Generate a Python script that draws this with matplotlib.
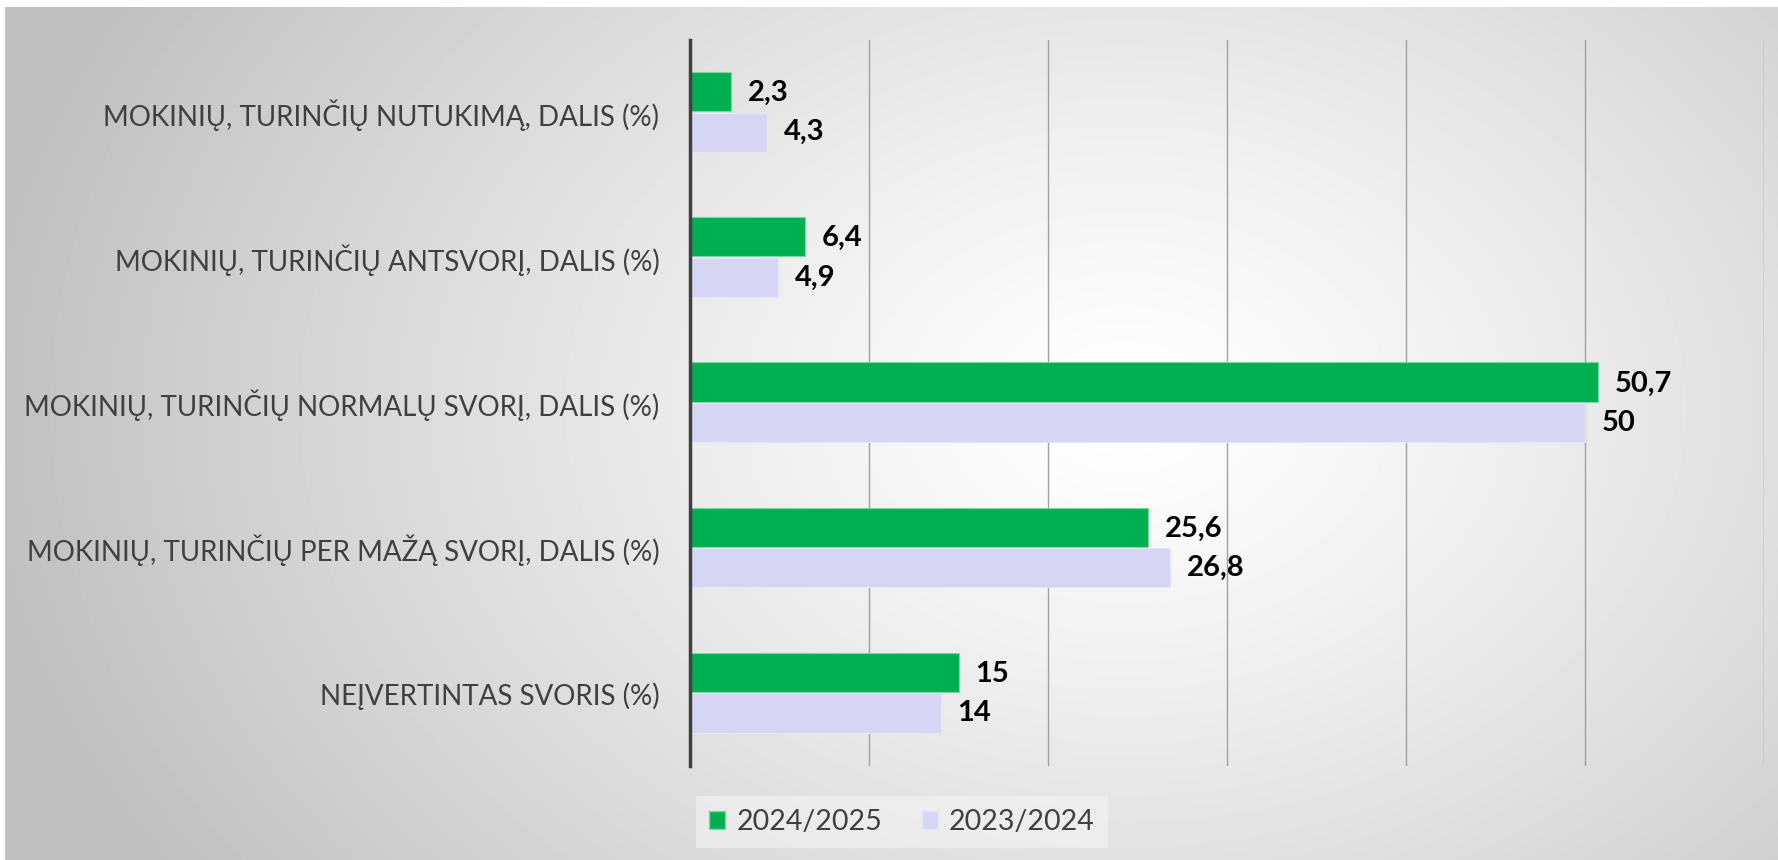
import numpy as np
import matplotlib.pyplot as plt
from matplotlib.patches import Patch

categories = [
    "MOKINIŲ, TURINČIŲ NUTUKIMĄ, DALIS (%)",
    "MOKINIŲ, TURINČIŲ ANTSVORĮ, DALIS (%)",
    "MOKINIŲ, TURINČIŲ NORMALŲ SVORĮ, DALIS (%)",
    "MOKINIŲ, TURINČIŲ PER MAŽĄ SVORĮ, DALIS (%)",
    "NEĮVERTINTAS SVORIS (%)",
]
serie_2425 = [2.3, 6.4, 50.7, 25.6, 15]
serie_2324 = [4.3, 4.9, 50, 26.8, 14]
etiquetas = ["2024/2025", "2023/2024"]

verde = "#00b050"
lila = "#d6d6f4"

plt.rcParams['font.family'] = ['Lato', 'DejaVu Sans']

W, H = 1778, 860
fig = plt.figure(figsize=(W / 100, H / 100), dpi=100)

# fondo con degradado radial
bg = fig.add_axes([5 / W, 0, 1 - 5 / W, 1 - 7 / H])
yy, xx = np.mgrid[0:H - 7, 0:W - 5]
cx, cy = 1120, 400
d = np.sqrt(((xx - cx) / 1150.0) ** 2 + ((yy - cy) / 850.0) ** 2)
d = np.clip(d, 0, 1)
val = 1.0 - 0.25 * d ** 1.2
bg.imshow(val, cmap="gray", vmin=0, vmax=1, aspect="auto", interpolation="bilinear")
bg.axis("off")

ax = fig.add_axes([690 / W, 1 - 766 / H, (1764 - 690) / W, (766 - 40) / H])
ax.patch.set_alpha(0)

y = np.arange(len(categories))
h = 0.27
ax.barh(y - h / 2 - 0.01, serie_2425, height=h, color=verde, edgecolor="#7fd6a5", linewidth=0.8, label=etiquetas[0])
ax.barh(y + h / 2, serie_2324, height=h, color=lila, edgecolor="#e6e6fa", linewidth=0.8, label=etiquetas[1])

for i in range(len(categories)):
    ax.text(serie_2425[i] + 0.95, y[i] - h / 2, f"{serie_2425[i]:g}".replace(".", ","),
            va="center", ha="left", fontsize=21, fontweight="bold", color="black")
    ax.text(serie_2324[i] + 0.95, y[i] + h / 2, f"{serie_2324[i]:g}".replace(".", ","),
            va="center", ha="left", fontsize=21, fontweight="bold", color="black")

ax.set_xlim(0, 60)
ax.set_ylim(len(categories) - 0.5, -0.5)
ax.set_xticks(np.arange(0, 61, 10))
ax.set_xticklabels([])
ax.tick_params(axis="x", length=0)
ax.tick_params(axis="y", length=0, pad=22)
ax.set_yticks(y)
ax.set_yticklabels(categories, fontsize=20, color="#404040")
ax.grid(axis="x", color="#a0a0a0", linewidth=1)
ax.set_axisbelow(True)
for s in ["top", "right", "bottom"]:
    ax.spines[s].set_visible(False)
ax.spines["left"].set_color("#404040")
ax.spines["left"].set_linewidth(2.5)

handles = [Patch(facecolor=verde, edgecolor="#7fd6a5"), Patch(facecolor=lila, edgecolor="#e6e6fa")]
fig.legend(handles, etiquetas, loc="center", bbox_to_anchor=(902 / W, 1 - 822 / H),
           ncol=2, fontsize=20.5, frameon=True, fancybox=False, framealpha=0.6,
           facecolor="#f4f4f4", edgecolor="none", handlelength=0.55, handleheight=0.55,
           columnspacing=1.4, handletextpad=0.4, labelcolor="#404040",
           borderpad=0.45)

fig.savefig("out.png", dpi=100)
